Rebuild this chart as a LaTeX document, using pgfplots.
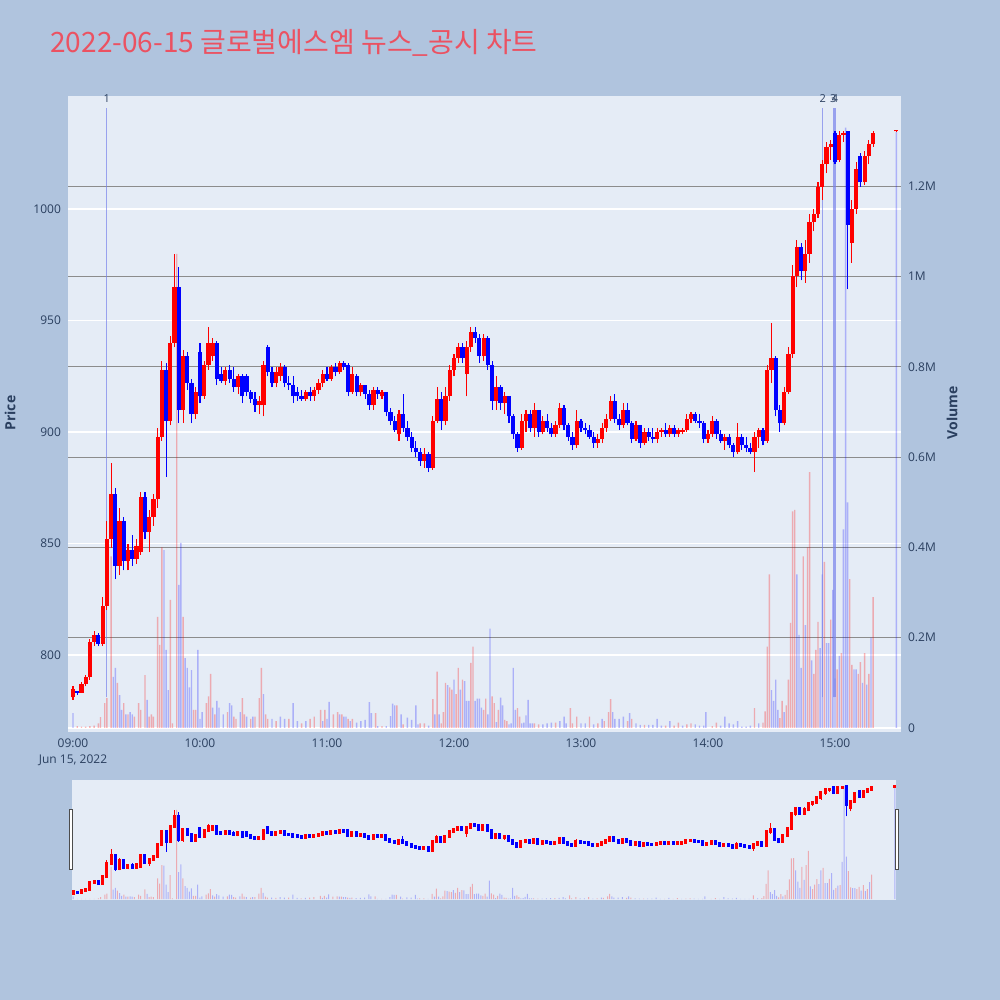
\documentclass[border=0pt]{standalone}
\usepackage{pgfplots}
\pgfplotsset{compat=1.18}
\usepackage{pgfplotstable}
\usepackage{fontspec}
\setmainfont{Open Sans}
\newfontfamily\krfont{Noto Sans CJK KR}
\definecolor{bgc}{RGB}{176,196,222}
\definecolor{plotbg}{RGB}{229,236,246}
\definecolor{gridg}{RGB}{140,140,140}
\definecolor{tickc}{RGB}{42,63,95}
\definecolor{titlec}{RGB}{235,82,98}
\definecolor{evc}{RGB}{120,130,235}
\definecolor{upc}{RGB}{255,0,0}
\definecolor{dnc}{RGB}{0,0,255}

\tikzset{tickfont/.style={font=\fontsize{6}{8}\selectfont, text=tickc}}
\pgfplotsset{
  mainpos/.style={at={(34pt,134pt)}, anchor=south west, scale only axis,
    width=416.5pt, height=318pt, xmin=-2.36, xmax=391.2},
  slidepos/.style={at={(36pt,50pt)}, anchor=south west, scale only axis,
    width=412pt, height=60pt, xmin=-0.5, xmax=389.5},
  wick/.style n args={3}{only marks, mark=*, mark size=0pt,
    mark options={draw=none, fill=none, opacity=0},
    error bars/.cd, y dir=plus, y explicit, error mark=none,
    error bar style={line width=#2, draw=#1, opacity=1, line cap=#3}},
}

% rising candles: t open high low close
\pgfplotstableread{
t o h l c
0 781 786 780 785
4 783 788 783 787
6 787 791 786 790
8 790 807 789 806
10 806 811 804 809
14 805 826 804 822
16 822 860 820 852
18 852 886 848 872
22 840 866 836 860
26 842 850 838 847
30 843 852 841 849
32 846 873 845 871
36 855 865 846 862
38 862 872 858 870
40 870 902 866 898
42 898 932 896 928
46 905 943 903 940
48 940 980 938 965
52 910 937 904 934
58 908 920 906 918
62 916 932 915 930
64 930 947 928 940
66 934 942 932 940
72 923 929 921 928
78 920 926 917 925
88 912 916 908 914
90 912 932 907 930
96 922 929 920 927
98 925 931 923 929
110 915 919 914 918
114 916 920 914 919
116 919 924 917 922
118 922 928 920 926
122 924 930 923 929
126 927 932 926 931
132 918 929 917 926
136 918 922 916 921
142 912 920 910 919
146 916 919 915 918
154 899 910 896 908
166 887 893 884 890
170 884 907 883 905
172 905 920 904 915
176 905 920 903 916
178 916 930 914 928
180 928 935 925 933
182 933 940 931 938
186 926 941 916 938
188 938 947 936 945
194 934 944 932 942
200 914 925 910 920
204 913 918 908 916
212 893 908 892 905
214 905 910 900 908
218 902 913 898 910
222 900 907 899 905
228 899 905 898 903
230 903 913 902 911
238 894 910 893 905
248 895 899 893 897
250 897 904 895 902
252 902 908 900 906
254 906 916 905 914
260 903 913 902 910
266 897 905 896 903
270 895 902 894 900
276 897 902 895 900
278 900 902 898 901
282 899 903 898 902
286 899 902 898 901
288 900 902 899 901
290 901 908 900 906
292 906 909 904 908
300 897 901 895 899
302 899 907 898 905
308 896 899 892 898
314 891 904 890 898
322 891 900 882 898
324 898 902 893 901
328 896 930 895 928
330 928 949 922 933
336 904 920 903 918
338 918 938 917 935
340 935 975 933 970
342 970 986 965 983
346 972 986 967 980
348 980 998 976 994
350 994 1000 990 998
352 998 1012 996 1010
354 1010 1022 1004 1020
356 1020 1030 1016 1028
358 1028 1031 1022 1029
362 1022 1035 1021 1033
364 1033 1035 1030 1034
368 985 1004 976 1000
370 1000 1021 998 1018
374 1012 1026 1011 1024
376 1024 1031 1020 1029
378 1029 1035 1028 1034
389 1034.8 1035.6 1034.6 1035.4
}\up

% falling candles: t open high low close
\pgfplotstableread{
t o h l c
2 784 784 782 783
12 809 810 804 805
20 872 875 834 840
24 860 862 838 842
28 847 854 840 843
34 871 873 852 855
44 928 931 880 905
50 965 974 904 910
54 934 936 919 922
56 922 924 904 908
60 936 940 913 916
68 940 941 921 924
70 926 929 922 923
74 928 930 922 924
76 924 929 918 920
80 925 926 913 916
82 925 926 916 918
84 918 919 913 915
86 915 918 909 912
92 938 939 925 927
94 927 929 920 922
100 929 930 920 922
102 922 925 919 921
104 921 925 913 916
106 918 920 914 916
108 916 919 914 915
112 918 920 914 916
120 926 929 923 924
124 929 931 925 927
128 931 932 928 929
130 930 931 916 918
134 925 926 916 918
138 921 921 915 917
140 917 919 910 912
144 919 920 915 917
148 918 918 907 909
150 909 911 903 905
152 905 907 900 901
156 908 917 900 902
158 902 905 896 898
160 898 900 891 893
162 893 896 889 891
164 891 893 885 887
168 890 891 882 884
174 915 918 901 905
184 938 940 931 933
190 945 947 940 942
192 942 944 931 934
196 942 943 928 930
198 930 932 910 914
202 920 921 910 913
206 916 916 904 907
208 907 908 897 899
210 899 900 891 893
216 908 910 900 902
220 910 910 898 900
224 905 908 900 902
226 902 904 898 899
232 911 912 901 903
234 903 904 896 898
236 898 900 892 894
240 905 906 900 902
242 902 904 899 901
244 901 903 897 898
246 898 900 893 895
256 914 917 904 906
258 906 908 901 903
262 910 913 903 904
264 904 905 895 897
268 903 903 893 895
272 900 902 896 898
274 898 902 895 897
280 901 904 898 899
284 902 903 898 899
294 908 909 904 905
296 905 908 902 904
298 904 905 895 897
304 905 906 897 899
306 899 901 895 896
310 898 899 893 894
312 894 895 889 891
316 898 899 892 894
318 894 898 891 893
320 893 895 890 891
326 901 902 894 896
332 933 934 907 910
334 910 912 900 904
344 983 985 968 972
360 1034 1035 1020 1021
366 1035 1035 964 993
372 1024 1025 1010 1012
}\dn

% volume in millions, red bars
\pgfplotstableread{
t v
2 0.004
4 0.003
6 0.003
8 0.004
10 0.005
12 0.010
13 0.024
15 0.055
16 0.066
18 0.380
21 0.100
24 0.055
26 0.030
29 0.025
31 0.055
32 0.040
34 0.117
36 0.025
37 0.030
38 0.025
40 0.246
41 0.184
42 0.400
46 0.284
47 0.010
49 1.050
52 0.246
57 0.040
58 0.040
63 0.055
64 0.070
65 0.120
67 0.030
73 0.035
76 0.025
77 0.020
80 0.066
81 0.030
84 0.020
86 0.025
88 0.066
89 0.133
91 0.030
92 0.020
96 0.015
102 0.020
108 0.010
112 0.020
114 0.025
117 0.040
119 0.040
123 0.030
125 0.035
127 0.030
130 0.020
132 0.020
143 0.033
146 0.004
153 0.050
156 0.008
164 0.010
166 0.010
170 0.064
172 0.125
174 0.010
175 0.035
176 0.100
178 0.090
179 0.085
181 0.075
182 0.133
184 0.107
188 0.144
189 0.180
194 0.040
195 0.065
198 0.070
199 0.055
201 0.040
204 0.018
205 0.015
210 0.044
211 0.025
218 0.010
220 0.008
228 0.012
235 0.044
236 0.010
238 0.025
244 0.025
248 0.010
251 0.015
253 0.035
254 0.064
262 0.015
264 0.020
270 0.007
280 0.005
284 0.005
286 0.012
290 0.008
292 0.010
302 0.004
304 0.012
322 0.044
326 0.012
327 0.037
328 0.180
329 0.340
334 0.022
335 0.060
337 0.050
338 0.107
339 0.233
340 0.480
341 0.483
345 0.380
347 0.400
348 0.567
350 0.120
351 0.173
352 0.235
355 0.368
358 0.240
361 0.130
363 0.166
367 0.330
368 0.140
371 0.120
372 0.146
374 0.166
376 0.120
378 0.290
}\volr

% volume in millions, blue bars
\pgfplotstableread{
t v
0 0.033
19 0.113
20 0.133
22 0.073
23 0.040
25 0.030
27 0.035
28 0.030
35 0.062
43 0.394
44 0.173
45 0.084
50 0.317
51 0.410
53 0.155
54 0.133
55 0.090
56 0.128
59 0.173
60 0.020
61 0.035
66 0.045
68 0.060
69 0.045
71 0.030
74 0.055
75 0.050
79 0.035
82 0.025
85 0.025
90 0.075
94 0.020
98 0.025
100 0.020
104 0.055
106 0.015
110 0.015
118 0.015
120 0.020
121 0.058
126 0.030
128 0.025
129 0.025
131 0.015
134 0.012
136 0.015
138 0.018
140 0.057
141 0.033
144 0.004
148 0.004
150 0.026
151 0.054
152 0.050
155 0.030
158 0.023
160 0.018
162 0.050
163 0.008
168 0.005
171 0.030
173 0.030
177 0.095
180 0.107
183 0.085
185 0.104
186 0.060
187 0.060
190 0.060
191 0.065
192 0.065
193 0.045
196 0.030
197 0.220
200 0.013
202 0.067
203 0.050
206 0.008
207 0.010
208 0.133
209 0.040
212 0.010
213 0.012
214 0.028
215 0.062
216 0.010
217 0.010
222 0.008
224 0.010
226 0.012
230 0.015
232 0.025
233 0.010
240 0.010
242 0.010
246 0.008
250 0.020
255 0.035
256 0.020
258 0.020
260 0.025
263 0.033
266 0.010
268 0.007
272 0.007
274 0.007
276 0.020
278 0.005
282 0.015
288 0.005
294 0.008
296 0.005
298 0.005
299 0.035
306 0.005
308 0.025
310 0.010
312 0.008
314 0.015
316 0.003
318 0.003
320 0.005
324 0.010
330 0.084
331 0.060
332 0.107
333 0.040
336 0.035
342 0.340
343 0.206
344 0.133
346 0.228
349 0.150
353 0.177
354 0.340
356 0.188
357 0.188
359 0.306
360 0.110
362 0.160
364 0.440
365 1.330
366 0.500
369 0.130
370 0.130
373 0.100
375 0.096
377 0.200
389 1.320
}\volb

\begin{document}
\begin{tikzpicture}
\path[use as bounding box, fill=bgc] (0,0) rectangle (500pt,500pt);

% title
\node[anchor=base west, inner sep=0pt, text=titlec, font=\krfont\fontsize{14}{16}\selectfont]
  at (25pt,473.5pt) {2022-06-15 글로벌에스엠 뉴스\_공시 차트};

% axis titles
\node[rotate=90, text=tickc, font=\bfseries\fontsize{7}{8}\selectfont] at (5pt,293.5pt) {Price};
\node[rotate=90, text=tickc, font=\bfseries\fontsize{7}{8}\selectfont] at (476pt,293.5pt) {Volume};

% ---- main: price background + grid + labels
\begin{axis}[mainpos, ymin=765.5, ymax=1050.7,
  axis background/.style={fill=plotbg},
  axis line style={draw=none}, major tick length=0pt,
  ytick={800,850,900,950,1000}, yticklabels={800,850,900,950,1000},
  ymajorgrids, grid style={white, line width=0.6pt},
  xtick={0,60,120,180,240,300,360},
  xticklabels={{09:00\\Jun 15, 2022},10:00,11:00,12:00,13:00,14:00,15:00},
  xticklabel style={tickfont, align=center},
  yticklabel style={tickfont},
]
\end{axis}

% ---- main: volume
\begin{axis}[mainpos, ymin=-0.0089, ymax=1.4,
  axis y line*=right, axis x line=none,
  axis line style={draw=none}, major tick length=0pt,
  ytick={0.2,0.4,0.6,0.8,1.0,1.2}, yticklabels={0.2M,0.4M,0.6M,0.8M,1M,1.2M},
  extra y ticks={0}, extra y tick labels={0},
  extra y tick style={major grid style={white, line width=0.6pt}},
  ymajorgrids, grid style={gridg, line width=0.6pt},
  yticklabel style={tickfont},
]
\addplot[ybar, bar width=0.7pt, bar shift=0pt, draw=none, fill=upc, fill opacity=0.28]
  table[x=t, y=v] {\volr};
\addplot[ybar, bar width=0.7pt, bar shift=0pt, draw=none, fill=dnc, fill opacity=0.25]
  table[x=t, y=v] {\volb};
\end{axis}

% ---- main: candles and events
\begin{axis}[mainpos, ymin=765.5, ymax=1050.7, hide axis, clip=false]
\addplot[evc, line width=0.6pt, opacity=0.7] coordinates {(16,781) (16,1045.4)};
\addplot[evc, line width=0.6pt, opacity=0.7] coordinates {(354.2,781) (354.2,1045.4)};
\addplot[evc, line width=0.6pt, opacity=0.7] coordinates {(359.2,781) (359.2,1045.4)};
\addplot[evc, line width=0.6pt, opacity=0.7] coordinates {(360,781) (360,1045.4)};
\node[tickfont, font=\fontsize{5.5}{6}\selectfont] at (axis cs:16,1049.5) {1};
\node[tickfont, font=\fontsize{5.5}{6}\selectfont] at (axis cs:354.2,1049.5) {2};
\node[tickfont, font=\fontsize{5.5}{6}\selectfont] at (axis cs:359.2,1049.5) {3};
\node[tickfont, font=\fontsize{5.5}{6}\selectfont] at (axis cs:360,1049.5) {4};
% wicks
\addplot[wick={upc}{0.55pt}{butt}] table[x=t, y=l, y error plus expr={\thisrow{h}-\thisrow{l}}] {\up};
\addplot[wick={dnc}{0.55pt}{butt}] table[x=t, y=l, y error plus expr={\thisrow{h}-\thisrow{l}}] {\dn};
% bodies
\addplot[wick={upc}{2.1pt}{butt}] table[x=t, y=o, y error plus expr={\thisrow{c}-\thisrow{o}}] {\up};
\addplot[wick={dnc}{2.1pt}{butt}] table[x=t, y=c, y error plus expr={\thisrow{o}-\thisrow{c}}] {\dn};
\end{axis}

% ---- range slider
\begin{axis}[slidepos, ymin=-0.0089, ymax=1.4,
  axis background/.style={fill=plotbg},
  axis line style={draw=none}, xtick=\empty, ytick=\empty]
\addplot[ybar, bar width=0.5pt, bar shift=0pt, draw=none, fill=upc, fill opacity=0.28]
  table[x=t, y=v] {\volr};
\addplot[ybar, bar width=0.5pt, bar shift=0pt, draw=none, fill=dnc, fill opacity=0.25]
  table[x=t, y=v] {\volb};
\end{axis}
\begin{axis}[slidepos, ymin=765.5, ymax=1050.7, hide axis]
\addplot[wick={upc}{0.4pt}{butt}] table[x=t, y=l, y error plus expr={\thisrow{h}-\thisrow{l}}] {\up};
\addplot[wick={dnc}{0.4pt}{butt}] table[x=t, y=l, y error plus expr={\thisrow{h}-\thisrow{l}}] {\dn};
\addplot[wick={upc}{1.5pt}{rect}] table[x=t, y=o, y error plus expr={\thisrow{c}-\thisrow{o}}] {\up};
\addplot[wick={dnc}{1.5pt}{rect}] table[x=t, y=c, y error plus expr={\thisrow{o}-\thisrow{c}}] {\dn};
\end{axis}
% slider handles
\draw[fill=white, draw=black!70, line width=0.5pt] (34.7pt,65pt) rectangle (36.3pt,95pt);
\draw[fill=white, draw=black!70, line width=0.5pt] (447.7pt,65pt) rectangle (449.3pt,95pt);
\end{tikzpicture}
\end{document}
